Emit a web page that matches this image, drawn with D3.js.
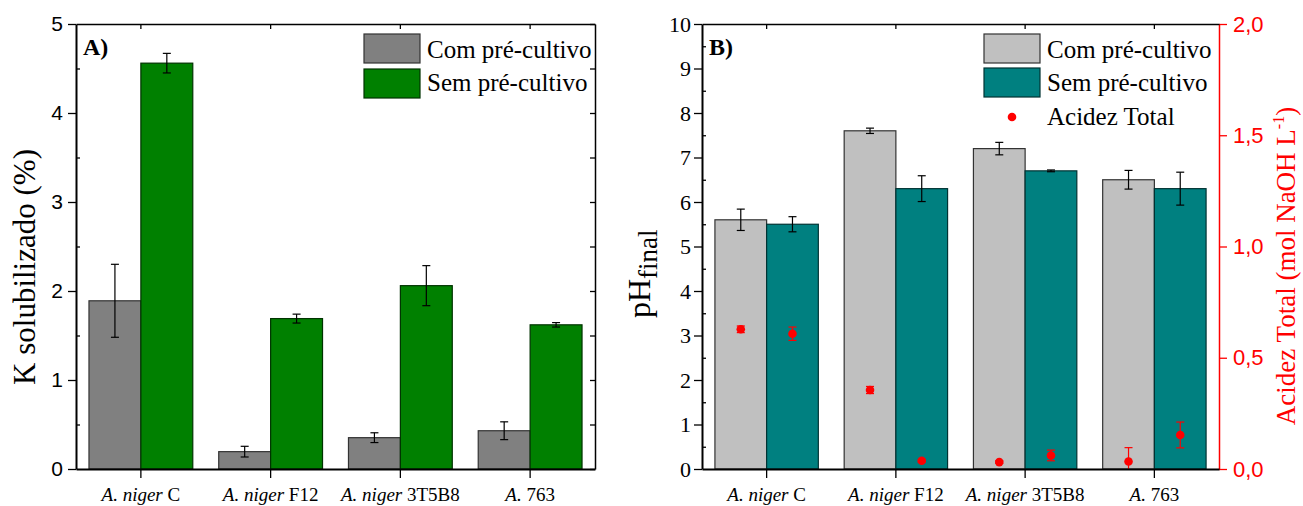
<!DOCTYPE html>
<html>
<head>
<meta charset="utf-8">
<script src="https://cdn.jsdelivr.net/npm/d3@7"></script>
<style>
  html, body { margin: 0; padding: 0; background: #fff; }
  svg { display: block; }
</style>
</head>
<body>
<svg id="chart" width="1303" height="506"></svg>
<script>
// ---------- data ----------
const categories = ["A. niger C", "A. niger F12", "A. niger 3T5B8", "A. 763"];
const seriesNames = ["Com pré-cultivo", "Sem pré-cultivo"];

const kCom = [1.89, 0.195, 0.352, 0.43];
const kComErr = [0.41, 0.06, 0.055, 0.10];
const kSem = [4.56, 1.69, 2.06, 1.62];
const kSemErr = [0.11, 0.05, 0.225, 0.025];

const phCom = [5.6, 7.6, 7.2, 6.5];
const phComErr = [0.24, 0.06, 0.14, 0.21];
const phSem = [5.5, 6.3, 6.7, 6.3];
const phSemErr = [0.17, 0.29, 0.02, 0.37];

const acidCom = [0.628, 0.355, 0.031, 0.034];
const acidComErr = [0.015, 0.016, 0.006, 0.062];
const acidSem = [0.608, 0.037, 0.061, 0.153];
const acidSemErr = [0.03, 0.006, 0.024, 0.058];

const kTicks = [0, 1, 2, 3, 4, 5];
const phTicks = [0, 1, 2, 3, 4, 5, 6, 7, 8, 9, 10];
const acidTicks = [0, 0.5, 1.0, 1.5, 2.0];

// ---------- setup ----------
const svg = d3.select("#chart");
svg.append("rect").attr("width", 1303).attr("height", 506).attr("fill", "#fff");
const SERIF = "'Liberation Serif', 'Times New Roman', serif";
const SANS = "'Liberation Sans', Arial, sans-serif";

function styleAxis(g, font, size, color) {
  g.selectAll("text").attr("font-family", font).attr("font-size", size).attr("fill", color || "#000");
  g.selectAll("line").attr("stroke", color || "#000").attr("stroke-width", 1.3);
  g.select(".domain").attr("stroke", color || "#000").attr("stroke-width", 2);
}

function drawCatLabels(g, x, yBase) {
  categories.forEach(c => {
    const idx = c.lastIndexOf(" ");
    const ital = c.slice(0, idx), rest = c.slice(idx);
    const t = g.append("text")
      .attr("x", x(c) + x.bandwidth() / 2).attr("y", yBase)
      .attr("text-anchor", "middle")
      .attr("font-family", SERIF).attr("font-size", 19).attr("fill", "#000");
    t.append("tspan").attr("font-style", "italic").text(ital);
    t.append("tspan").text(rest);
  });
}

function drawErr(g, cx, y, v, e, color) {
  const top = y(v + e), bot = y(Math.max(0, v - e));
  g.append("line").attr("x1", cx).attr("x2", cx).attr("y1", top).attr("y2", bot).attr("stroke", color).attr("stroke-width", 1.2);
  g.append("line").attr("x1", cx - 4).attr("x2", cx + 4).attr("y1", top).attr("y2", top).attr("stroke", color).attr("stroke-width", 1.2);
  if (v - e >= 0) g.append("line").attr("x1", cx - 4).attr("x2", cx + 4).attr("y1", bot).attr("y2", bot).attr("stroke", color).attr("stroke-width", 1.2);
}

// ---------- Panel A ----------
(function () {
  const L = 76, R = 595, T = 24, B = 469;
  const x = d3.scaleBand().domain(categories).range([L, R]).padding(0);
  const xs = d3.scaleBand().domain([0, 1]).range([x.bandwidth() * 0.1, x.bandwidth() * 0.9]).padding(0);
  const y = d3.scaleLinear().domain([0, 5]).range([B, T]);
  const g = svg.append("g");
  const colors = ["#808080", "#008000"];
  const strokes = ["#333", "#003300"];
  const vals = [kCom, kSem], errs = [kComErr, kSemErr];

  [0, 1].forEach(s => {
    g.selectAll(null).data(categories).enter().append("rect")
      .attr("x", d => x(d) + xs(s)).attr("width", xs.bandwidth())
      .attr("y", (d, i) => y(vals[s][i])).attr("height", (d, i) => B - y(vals[s][i]))
      .attr("fill", colors[s]).attr("stroke", strokes[s]).attr("stroke-width", 1.2);
  });
  [0, 1].forEach(s => {
    categories.forEach((c, i) => drawErr(g, x(c) + xs(s) + xs.bandwidth() / 2, y, vals[s][i], errs[s][i], "#000"));
  });

  // axes
  const halfTicks = d3.range(0.5, 5, 1);
  const ax = g.append("g").attr("transform", `translate(${L},0)`)
    .call(d3.axisLeft(y).tickValues(kTicks).tickSize(8).tickPadding(5).tickSizeOuter(0).tickFormat(d3.format("d")));
  styleAxis(ax, SANS, 21);
  const axm = g.append("g").attr("transform", `translate(${L},0)`)
    .call(d3.axisRight(y).tickValues(halfTicks).tickSize(4).tickSizeOuter(0).tickFormat(""));
  styleAxis(axm); axm.select(".domain").remove();
  const axr = g.append("g").attr("transform", `translate(${R},0)`)
    .call(d3.axisLeft(y).tickValues(kTicks.concat(halfTicks)).tickSize(5).tickSizeOuter(0).tickFormat(""));
  styleAxis(axr); axr.select(".domain").attr("stroke-width", 1.5);
  const axb = g.append("g").attr("transform", `translate(0,${B})`)
    .call(d3.axisBottom(x).tickSize(9).tickSizeOuter(0).tickFormat(""));
  styleAxis(axb);
  const axt = g.append("g").attr("transform", `translate(0,${T})`)
    .call(d3.axisBottom(x).tickSize(5).tickSizeOuter(0).tickFormat(""));
  styleAxis(axt); axt.select(".domain").attr("stroke-width", 1.5);
  drawCatLabels(g, x, 501);

  g.append("text").attr("x", 83).attr("y", 55).attr("font-family", SERIF).attr("font-weight", "bold")
    .attr("font-size", 24).text("A)");
  g.append("text").attr("transform", "translate(35,267) rotate(-90)").attr("text-anchor", "middle")
    .attr("font-family", SERIF).attr("font-size", 31).text("K solubilizado (%)");

  // legend
  const lg = g.append("g");
  [0, 1].forEach(s => {
    lg.append("rect").attr("x", 364).attr("y", 34 + s * 35).attr("width", 56).attr("height", 29)
      .attr("fill", colors[s]).attr("stroke", strokes[s]).attr("stroke-width", 1.2);
    lg.append("text").attr("x", 427).attr("y", 58 + s * 33).attr("font-family", SERIF).attr("font-size", 25)
      .text(seriesNames[s]);
  });
})();

// ---------- Panel B ----------
(function () {
  const L = 702, R = 1219, T = 24, B = 469;
  const x = d3.scaleBand().domain(categories).range([L, R]).padding(0);
  const xs = d3.scaleBand().domain([0, 1]).range([x.bandwidth() * 0.1, x.bandwidth() * 0.9]).padding(0);
  const y = d3.scaleLinear().domain([0, 10]).range([B, T]);
  const y2 = d3.scaleLinear().domain([0, 2]).range([B, T]);
  const g = svg.append("g");
  const colors = ["#C0C0C0", "#008080"];
  const strokes = ["#333", "#003333"];
  const vals = [phCom, phSem], errs = [phComErr, phSemErr];
  const avals = [acidCom, acidSem], aerrs = [acidComErr, acidSemErr];

  [0, 1].forEach(s => {
    g.selectAll(null).data(categories).enter().append("rect")
      .attr("x", d => x(d) + xs(s)).attr("width", xs.bandwidth())
      .attr("y", (d, i) => y(vals[s][i])).attr("height", (d, i) => B - y(vals[s][i]))
      .attr("fill", colors[s]).attr("stroke", strokes[s]).attr("stroke-width", 1.2);
  });
  [0, 1].forEach(s => {
    categories.forEach((c, i) => drawErr(g, x(c) + xs(s) + xs.bandwidth() / 2, y, vals[s][i], errs[s][i], "#000"));
  });
  // acidity points
  [0, 1].forEach(s => {
    categories.forEach((c, i) => {
      const cx = x(c) + xs(s) + xs.bandwidth() / 2;
      drawErr(g, cx, y2, avals[s][i], aerrs[s][i], "#FF0000");
      g.append("circle").attr("cx", cx).attr("cy", y2(avals[s][i])).attr("r", 4.3).attr("fill", "#FF0000");
    });
  });

  const halfTicks = d3.range(0.5, 10, 1);
  const ax = g.append("g").attr("transform", `translate(${L},0)`)
    .call(d3.axisLeft(y).tickValues(phTicks).tickSize(8).tickPadding(3).tickSizeOuter(0).tickFormat(d3.format("d")));
  styleAxis(ax, SERIF, 22);
  const axm = g.append("g").attr("transform", `translate(${L},0)`)
    .call(d3.axisRight(y).tickValues(halfTicks).tickSize(4).tickSizeOuter(0).tickFormat(""));
  styleAxis(axm); axm.select(".domain").remove();

  const comma = d3.formatLocale({ decimal: ",", thousands: ".", grouping: [3], currency: ["", ""] }).format(".1f");
  const axr = g.append("g").attr("transform", `translate(${R},0)`)
    .call(d3.axisRight(y2).tickValues(acidTicks).tickSize(8).tickPadding(6).tickSizeOuter(0).tickFormat(comma));
  styleAxis(axr, SANS, 22, "#FF0000"); axr.select(".domain").attr("stroke-width", 1.5);

  const axb = g.append("g").attr("transform", `translate(0,${B})`)
    .call(d3.axisBottom(x).tickSize(9).tickSizeOuter(0).tickFormat(""));
  styleAxis(axb);
  const axt = g.append("g").attr("transform", `translate(0,${T})`)
    .call(d3.axisBottom(x).tickSize(5).tickSizeOuter(0).tickFormat(""));
  styleAxis(axt); axt.select(".domain").attr("stroke-width", 1.5);
  drawCatLabels(g, x, 501);

  g.append("text").attr("x", 709).attr("y", 55).attr("font-family", SERIF).attr("font-weight", "bold")
    .attr("font-size", 24).text("B)");

  const pt = g.append("text").attr("transform", "translate(650,318) rotate(-90)")
    .attr("font-family", SERIF).attr("font-size", 32);
  pt.append("tspan").text("pH");
  pt.append("tspan").attr("font-size", 27).attr("dy", 7).text("final");

  const at = g.append("text").attr("transform", "translate(1295,266) rotate(-90)").attr("text-anchor", "middle")
    .attr("font-family", SERIF).attr("font-size", 27).attr("fill", "#FF0000");
  at.append("tspan").text("Acidez Total (mol NaOH L");
  at.append("tspan").attr("font-size", 16).attr("dy", -11).text("-1");
  at.append("tspan").attr("dy", 11).text(")");

  // legend
  const lg = g.append("g");
  [0, 1].forEach(s => {
    lg.append("rect").attr("x", 984).attr("y", 34 + s * 34).attr("width", 56).attr("height", 29)
      .attr("fill", colors[s]).attr("stroke", strokes[s]).attr("stroke-width", 1.2);
    lg.append("text").attr("x", 1047).attr("y", 58 + s * 33).attr("font-family", SERIF).attr("font-size", 25)
      .text(seriesNames[s]);
  });
  lg.append("circle").attr("cx", 1012).attr("cy", 117).attr("r", 4.3).attr("fill", "#FF0000");
  lg.append("text").attr("x", 1047).attr("y", 125).attr("font-family", SERIF).attr("font-size", 25).text("Acidez Total");
})();
</script>
</body>
</html>
